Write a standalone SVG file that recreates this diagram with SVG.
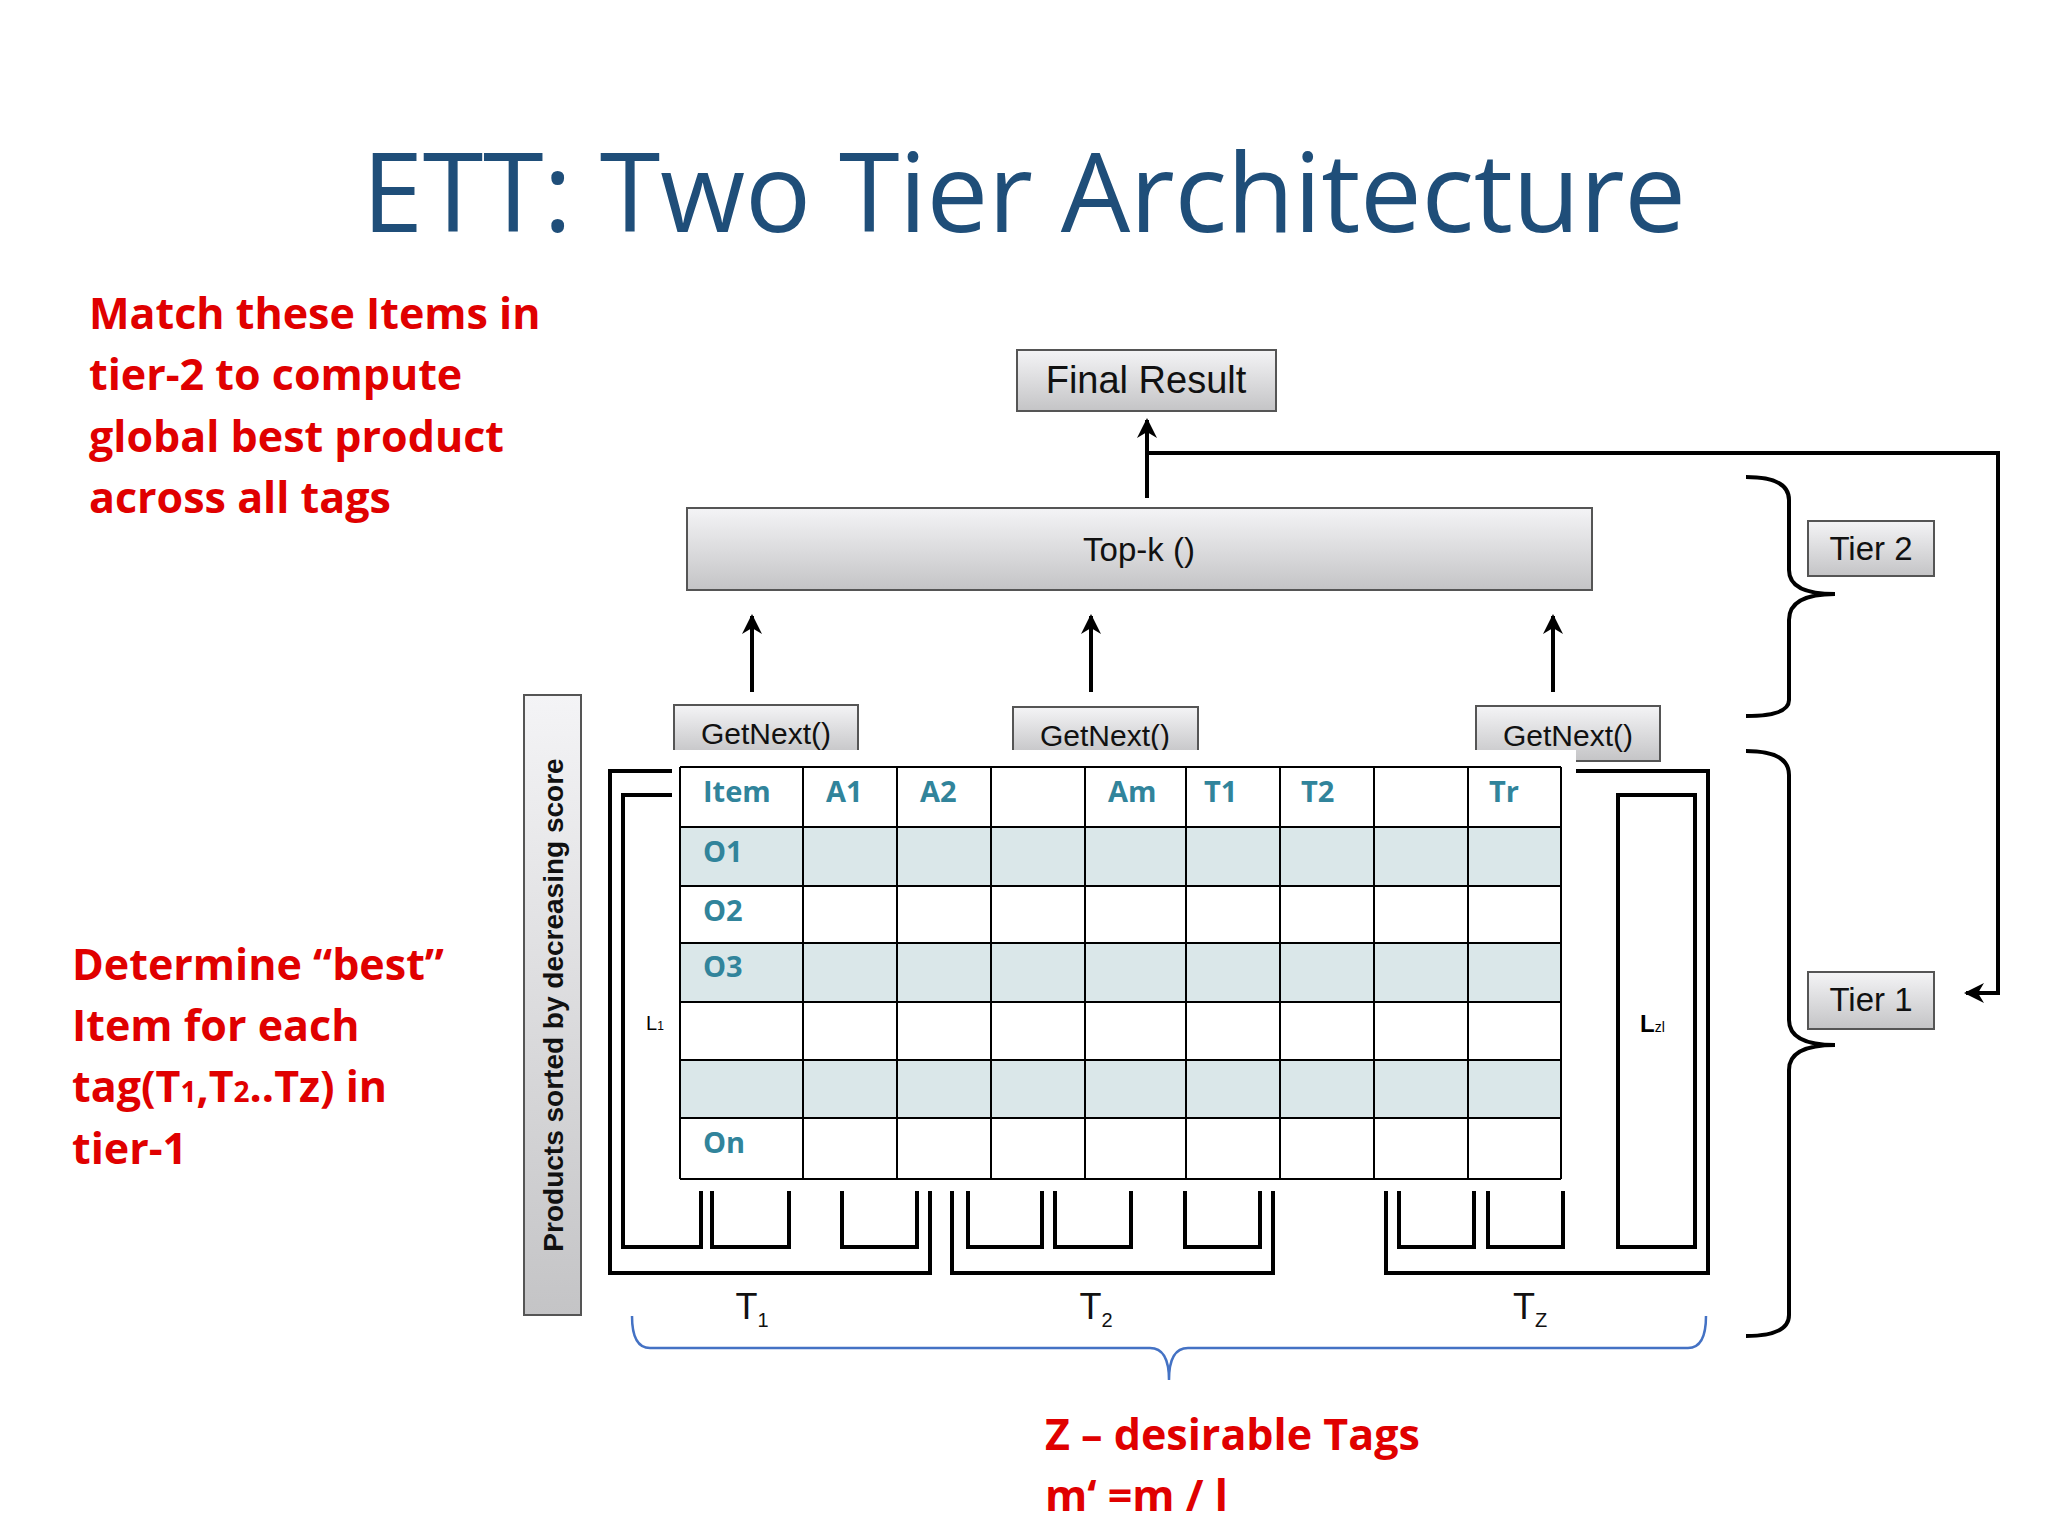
<svg xmlns="http://www.w3.org/2000/svg" width="2048" height="1536" viewBox="0 0 2048 1536">
<defs>
<linearGradient id="g" x1="0" y1="0" x2="0" y2="1"><stop offset="0" stop-color="#f4f4f6"/><stop offset="1" stop-color="#c4c4c6"/></linearGradient>
<marker id="ah" viewBox="0 0 10 10" refX="9" refY="5" markerWidth="5" markerHeight="5" orient="auto"><path d="M0,0 L10,5 L0,10 L3,5 Z" fill="#000"/></marker>
<style>
.box{fill:url(#g);stroke:#555;stroke-width:2}
.lbl{font-family:"Liberation Sans",Arial,sans-serif;fill:#111;text-anchor:middle}
.red{font-family:"Open Sans","Liberation Sans",sans-serif;font-weight:bold;fill:#e00000;font-size:43px}
.ln{stroke:#000;stroke-width:4;fill:none}
.hd{font-family:"Open Sans","Liberation Sans",sans-serif;font-weight:bold;fill:#31849B;font-size:29px}
.grid{stroke:#000;stroke-width:2;fill:none}
</style>
</defs>
<rect width="2048" height="1536" fill="#fff"/>
<text x="1024" y="232" font-family="Open Sans,Lato,sans-serif" font-size="110" fill="#1F4E79" text-anchor="middle" textLength="1324">ETT: Two Tier Architecture</text>
<g class="red">
<text x="89" y="329">Match these Items in</text>
<text x="89" y="390">tier-2 to compute</text>
<text x="89" y="452">global best product</text>
<text x="89" y="513">across all tags</text>
<text x="72" y="980">Determine  “best”</text>
<text x="72" y="1041">Item for each</text>
<text x="72" y="1102">tag(T<tspan font-size="28">1</tspan>,T<tspan font-size="28">2</tspan>..Tz) in</text>
<text x="72" y="1164">tier-1</text>
<text x="1045" y="1450">Z – desirable Tags</text>
<text x="1045" y="1511">m‘ =m / l</text>
</g>
<g id="connectors">
<line class="ln" x1="1147" y1="498" x2="1147" y2="420" marker-end="url(#ah)"/>
<polyline class="ln" points="1147,453 1998,453 1998,993 1966,993" marker-end="url(#ah)"/>
<line class="ln" x1="752" y1="692" x2="752" y2="616" marker-end="url(#ah)"/>
<line class="ln" x1="1091" y1="692" x2="1091" y2="616" marker-end="url(#ah)"/>
<line class="ln" x1="1553" y1="692" x2="1553" y2="616" marker-end="url(#ah)"/>
</g>
<g id="final"><rect class="box" x="1017" y="350" width="259" height="61"/><text class="lbl" x="1146" y="393" font-size="38">Final Result</text></g>
<g id="topk"><rect class="box" x="687" y="508" width="905" height="82"/><text class="lbl" x="1139" y="561" font-size="33">Top-k ()</text></g>
<g id="tier2"><rect class="box" x="1808" y="521" width="126" height="55"/><text class="lbl" x="1871" y="560" font-size="33">Tier 2</text></g>
<g id="tier1"><rect class="box" x="1808" y="972" width="126" height="57"/><text class="lbl" x="1871" y="1011" font-size="33">Tier 1</text></g>
<g id="braces" class="ln">
<path d="M1746,477 Q1789,477 1789,500 L1789,570 Q1789,594 1835,594 Q1789,594 1789,620 L1789,700 Q1789,716 1746,716"/>
<path d="M1746,751 Q1789,751 1789,775 L1789,1020 Q1789,1045 1835,1045 Q1789,1045 1789,1070 L1789,1315 Q1789,1336 1746,1336"/>
</g>
<g id="vlabel"><rect class="box" x="524" y="695" width="57" height="620"/><text class="lbl" transform="translate(563,1005) rotate(-90)" font-size="28" font-weight="bold">Products sorted by decreasing score</text></g>
<g id="lists" class="ln">
<polyline points="673,771 610,771 610,1273 930,1273 930,1191"/>
<polyline points="952,1191 952,1273 1273,1273 1273,1191"/>
<polyline points="1386,1191 1386,1273 1708,1273 1708,771 1576,771"/>
<polyline points="673,795 623,795 623,1247 701,1247 701,1191"/>
<polyline points="712,1191 712,1247 789,1247 789,1191"/>
<polyline points="842,1191 842,1247 917,1247 917,1191"/>
<polyline points="968,1191 968,1247 1042,1247 1042,1191"/>
<polyline points="1055,1191 1055,1247 1131,1247 1131,1191"/>
<polyline points="1185,1191 1185,1247 1260,1247 1260,1191"/>
<polyline points="1399,1191 1399,1247 1474,1247 1474,1191"/>
<polyline points="1488,1191 1488,1247 1563,1247 1563,1191"/>
<rect x="1618" y="795" width="77" height="452"/>
</g>
<text x="646" y="1030" font-family="Liberation Sans,sans-serif" font-size="20">L<tspan font-size="12">1</tspan></text>
<text x="1640" y="1032" font-family="Liberation Sans,sans-serif" font-size="24" font-weight="bold">L<tspan font-size="14" font-weight="normal">zl</tspan></text>
<g id="getnext">
<rect class="box" x="674" y="705" width="184" height="50"/><text class="lbl" x="766" y="744" font-size="30">GetNext()</text>
<rect class="box" x="1013" y="707" width="185" height="48"/><text class="lbl" x="1105" y="746" font-size="30">GetNext()</text>
<rect class="box" x="1476" y="706" width="184" height="55"/><text class="lbl" x="1568" y="746" font-size="30">GetNext()</text>
</g>
<g id="table">
<rect x="672" y="750" width="904" height="440" fill="#fff"/>
<rect x="680" y="827" width="881" height="59" fill="#DAE7E9"/>
<rect x="680" y="943" width="881" height="59" fill="#DAE7E9"/>
<rect x="680" y="1060" width="881" height="58" fill="#DAE7E9"/>
<path class="grid" d="M680,767H1561M680,827H1561M680,886H1561M680,943H1561M680,1002H1561M680,1060H1561M680,1118H1561M680,1179H1561M680,767V1179M803,767V1179M897,767V1179M991,767V1179M1085,767V1179M1186,767V1179M1280,767V1179M1374,767V1179M1468,767V1179M1561,767V1179"/>
<g class="hd">
<text x="703" y="802">Item</text><text x="826" y="802">A1</text><text x="920" y="802">A2</text><text x="1108" y="802">Am</text><text x="1204" y="802">T1</text><text x="1301" y="802">T2</text><text x="1489" y="802">Tr</text>
<text x="703" y="862">O1</text><text x="703" y="921">O2</text><text x="703" y="977">O3</text><text x="703" y="1153">On</text>
</g>
</g>
<g class="lbl" font-size="36">
<text x="752" y="1319">T<tspan font-size="20" dy="8">1</tspan></text>
<text x="1096" y="1319">T<tspan font-size="20" dy="8">2</tspan></text>
<text x="1530" y="1319">T<tspan font-size="20" dy="8">Z</tspan></text>
</g>
<path d="M632,1316 Q632,1348 650,1348 L1150,1348 Q1169,1348 1169,1380 Q1169,1348 1188,1348 L1688,1348 Q1706,1348 1706,1316" fill="none" stroke="#4472C4" stroke-width="2.5"/>
</svg>
